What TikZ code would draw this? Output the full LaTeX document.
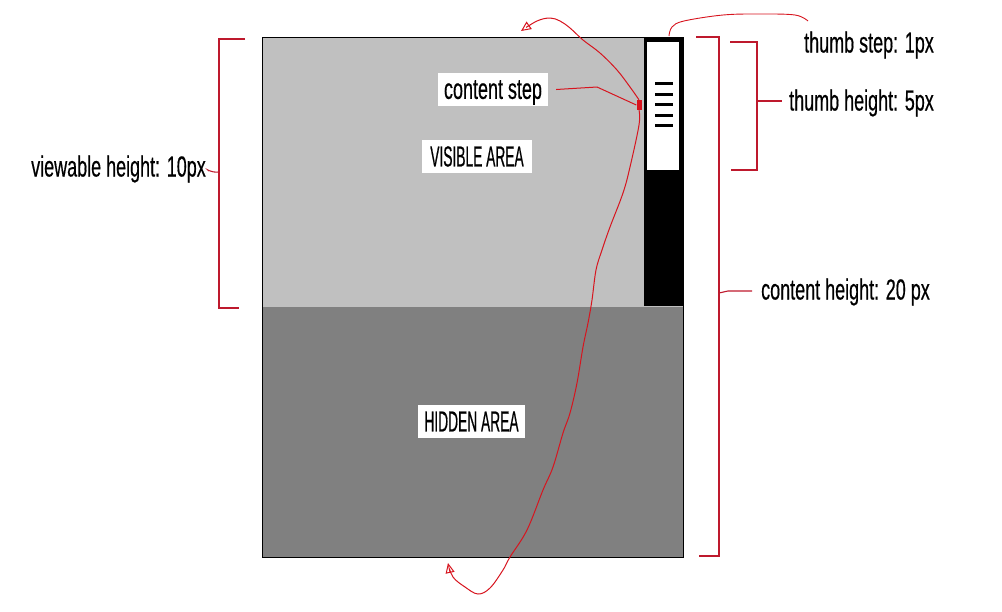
\documentclass[tikz,border=0pt]{standalone}
\usepackage{fontspec}
\setmainfont[FakeStretch=0.62, FakeBold=0.4]{Liberation Sans}
\newfontfamily\capfont[FakeStretch=0.475, FakeBold=0.4]{Liberation Sans}
\usetikzlibrary{arrows.meta}
\definecolor{visgray}{HTML}{C0C0C0}
\definecolor{hidgray}{HTML}{808080}
\definecolor{penred}{RGB}{215,20,30}
\definecolor{brackred}{RGB}{190,25,45}
\tikzset{
  lbl/.style={inner sep=0pt, font=\fontsize{29}{32}\selectfont},
  boxlbl/.style={fill=white, inner sep=0pt, minimum height=33pt, font=\fontsize{29}{32}\selectfont},
  capbox/.style={boxlbl, font=\fontsize{29}{32}\selectfont\capfont},
  pen/.style={draw=penred, line width=1pt},
  brack/.style={draw=brackred, line width=1.1pt},
  tip/.style={-{Triangle[open, length=10pt, width=9pt, line width=1pt]}},
  thumbline/.style={line width=3pt, black},
}
\begin{document}
\begin{tikzpicture}[x=1pt, y=-1pt]
\useasboundingbox (0,0) rectangle (1002,611);
% areas
\fill[visgray] (262,37) rectangle (683,307);
\fill[hidgray] (262,307) rectangle (683,557);
\draw[black, line width=0.8pt] (262,37) rectangle (683,557);
% scrollbar
\node[fill=black, inner sep=0pt, minimum width=39pt, minimum height=268pt] (sb) at (663.5,172) {};
\node[fill=white, inner sep=0pt, minimum width=32pt, minimum height=128pt] (thumb) at (663,106) {};
\foreach \y in {83,94,104,115,125} \draw[thumbline] (655,\y) -- (673,\y);
% labels on the areas
\node[boxlbl, minimum width=110pt, text depth=0pt] (cstep) at (493,89.5) {content step};
\node[capbox, minimum width=110pt] (vis) at (477,156.5) {VISIBLE AREA};
\node[capbox, minimum width=107pt] (hid) at (471.5,421.5) {HIDDEN AREA};
% red dot
\node[fill=penred, inner sep=0pt, minimum width=5pt, minimum height=10pt] (dot) at (639,105) {};
% outside labels
\node[lbl, anchor=west] (vh) at (31,169) {viewable height: 10px};
\node[lbl, anchor=west] (ch) at (761,292) {content height: 20 px};
\node[lbl, anchor=west] (th) at (789,103) {thumb height: 5px};
\node[lbl, anchor=west] (ts) at (804,45) {thumb step: 1px};
% free ends
\coordinate (toptip) at (521,31);
\coordinate (bottip) at (448,563);
% content step connector
\draw[pen] ([xshift=8pt]cstep.east) -- (597,87) -- (dot.west);
% big curve up
\draw[pen, tip] plot[smooth, tension=0.6] coordinates {(dot.north) (630,87) (617,70) (600,53) (583,40) (570,28) (560,21) (550,18) (537,21) (toptip)};
% big curve down
\draw[pen, tip] plot[smooth, tension=0.6] coordinates {(dot.south) (639,125) (630,167) (623,193) (610,227) (602,250) (596,270) (592,300) (588,323) (583,347) (577,383) (570,413) (563,433) (553,467) (543,490) (527,530) (510,557) (503,570) (490,588) (478,594) (465,587) (453,577) (bottip)};
% thumb step curve
\draw[pen, line width=0.9pt] plot[smooth, tension=0.6] coordinates {(669,36) (672,27) (684,21) (723,15) (760,14) (795,15) (808,21)};
% brackets
\draw[brack] (245,39) -- (219,39) -- (219,308) -- (239,308);
\draw[brack] (vh.east) ++(3,2) .. controls (206,168) and (210,173) .. (219,172);
\draw[brack] (696,37) -- (719,37) -- (719,556) -- (699,556);
\draw[brack] (719,293) -- (728,291) -- (752,291);
\draw[brack] (757,101) -- (782,101);
\draw[brack] (730,42) -- (757,42) -- (757,170) -- (731,170);
\end{tikzpicture}
\end{document}
